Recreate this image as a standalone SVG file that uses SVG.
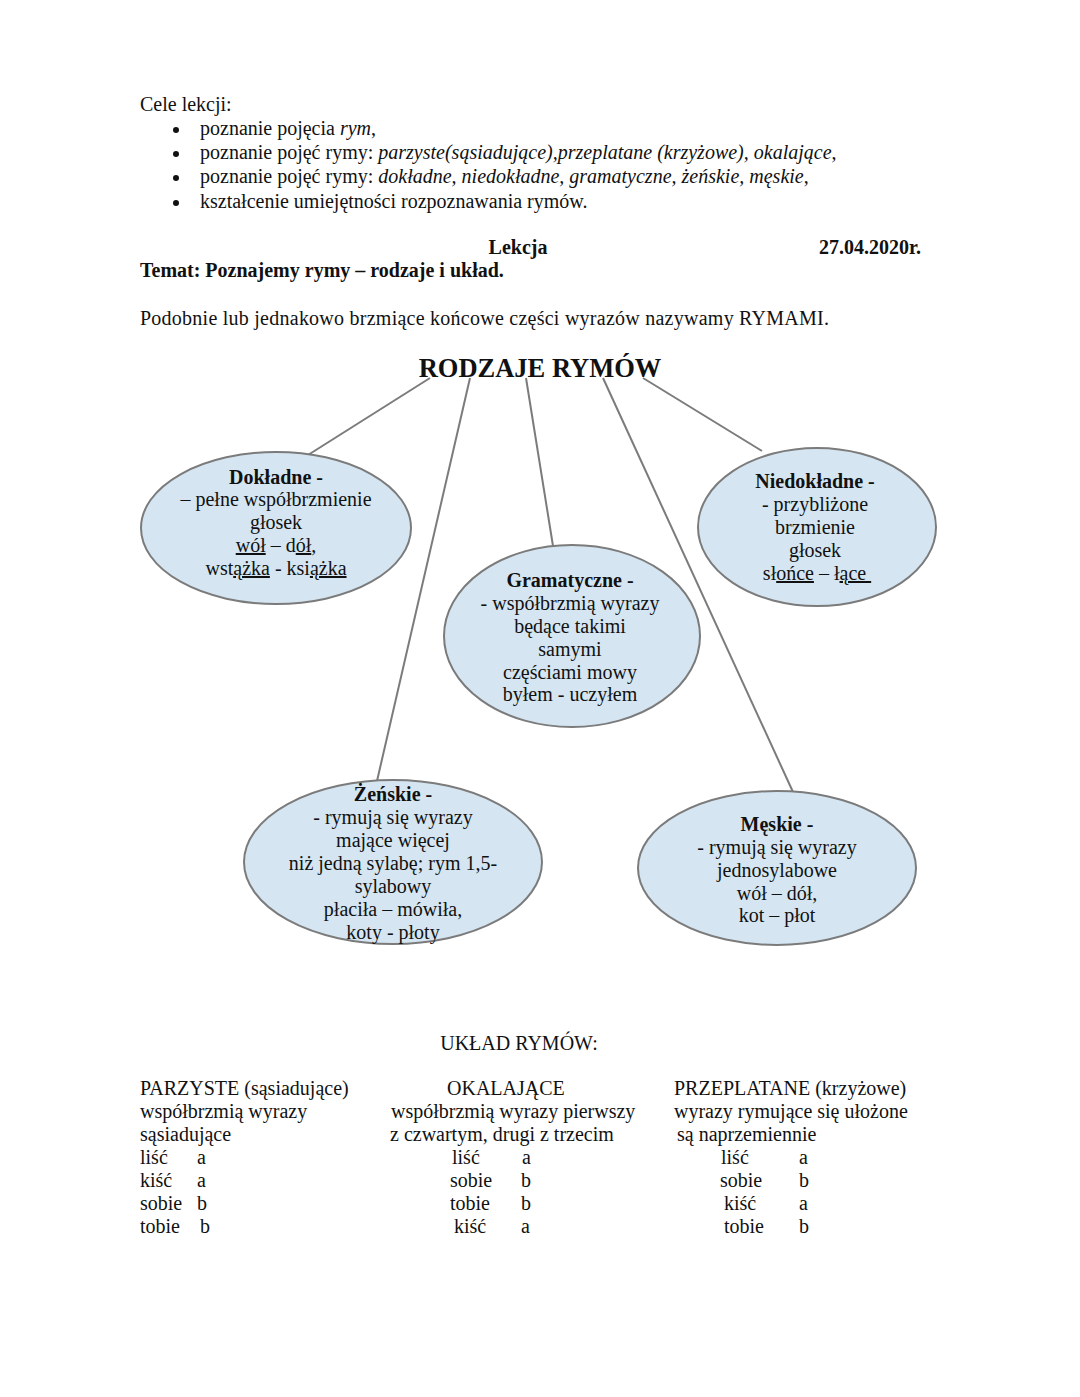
<svg xmlns="http://www.w3.org/2000/svg" width="1080" height="1397" viewBox="0 0 1080 1397">
<style>
text{font-family:"Liberation Serif","Times New Roman",serif;font-size:20px;fill:#111;}
.b{font-weight:bold;}
.i{font-style:italic;}
.c{text-anchor:middle;}
.u{text-decoration:underline;}
.node ellipse{fill:#d5e6f2;stroke:#7b7b7b;stroke-width:2;}
#connectors line{stroke:#7b7b7b;stroke-width:2;}
</style>
<rect width="1080" height="1397" fill="#fff"/>
<g id="header">
<text x="140" y="111">Cele lekcji:</text>
<circle cx="176" cy="130" r="3" fill="#111"/>
<circle cx="176" cy="154" r="3" fill="#111"/>
<circle cx="176" cy="178" r="3" fill="#111"/>
<circle cx="176" cy="203" r="3" fill="#111"/>
<text x="200" y="135">poznanie pojęcia <tspan class="i">rym</tspan>,</text>
<text x="200" y="159">poznanie pojęć rymy: <tspan class="i">parzyste(sąsiadujące),przeplatane (krzyżowe), okalające</tspan>,</text>
<text x="200" y="183">poznanie pojęć rymy: <tspan class="i">dokładne, niedokładne, gramatyczne, żeńskie, męskie</tspan>,</text>
<text x="200" y="208">kształcenie umiejętności rozpoznawania rymów.</text>
<text x="518" y="254" class="b c">Lekcja</text>
<text x="921" y="254" class="b" text-anchor="end">27.04.2020r.</text>
<text x="140" y="277" class="b">Temat: Poznajemy rymy – rodzaje i układ.</text>
<text x="140" y="325" textLength="689" lengthAdjust="spacing">Podobnie lub jednakowo brzmiące końcowe części wyrazów nazywamy RYMAMI.</text>
<text x="540" y="377" class="b c" style="font-size:26.5px">RODZAJE RYMÓW</text>
</g>
<g id="connectors">
<line x1="430" y1="378" x2="308" y2="455"/>
<line x1="470" y1="378" x2="377" y2="781"/>
<line x1="526" y1="378" x2="553" y2="546"/>
<line x1="603" y1="378" x2="793" y2="792"/>
<line x1="643" y1="378" x2="762" y2="451"/>
</g>
<g id="dokladne" class="node">
<ellipse cx="276" cy="528" rx="135" ry="76"/>
<text x="276" y="484" class="b c">Dokładne -</text>
<text x="276" y="506" class="c">– pełne współbrzmienie</text>
<text x="276" y="529" class="c">głosek</text>
<text x="276" y="552" class="c"><tspan class="u">wół</tspan> – d<tspan class="u">ół</tspan>,</text>
<text x="276" y="575" class="c">wst<tspan class="u">ążka</tspan> - ksi<tspan class="u">ążka</tspan></text>
</g>
<g id="niedokladne" class="node">
<ellipse cx="817" cy="527" rx="119" ry="79"/>
<text x="815" y="488" class="b c">Niedokładne -</text>
<text x="815" y="511" class="c">- przybliżone</text>
<text x="815" y="534" class="c">brzmienie</text>
<text x="815" y="557" class="c">głosek</text>
<text x="817" y="580" class="c">sł<tspan class="u">ońce</tspan> – ł<tspan class="u">ące&#160;</tspan></text>
</g>
<g id="gramatyczne" class="node">
<ellipse cx="572" cy="636" rx="128" ry="91"/>
<text x="570" y="587" class="b c">Gramatyczne -</text>
<text x="570" y="610" class="c">- współbrzmią wyrazy</text>
<text x="570" y="633" class="c">będące takimi</text>
<text x="570" y="656" class="c">samymi</text>
<text x="570" y="679" class="c">częściami mowy</text>
<text x="570" y="701" class="c">byłem - uczyłem</text>
</g>
<g id="zenskie" class="node">
<ellipse cx="393" cy="862" rx="149" ry="82"/>
<text x="393" y="801" class="b c">Żeńskie -</text>
<text x="393" y="824" class="c">- rymują się wyrazy</text>
<text x="393" y="847" class="c">mające więcej</text>
<text x="393" y="870" class="c">niż jedną sylabę; rym 1,5-</text>
<text x="393" y="893" class="c">sylabowy</text>
<text x="393" y="916" class="c">płaciła – mówiła,</text>
<text x="393" y="939" class="c">koty - płoty</text>
</g>
<g id="meskie" class="node">
<ellipse cx="777" cy="868" rx="139" ry="77"/>
<text x="777" y="831" class="b c">Męskie -</text>
<text x="777" y="854" class="c">- rymują się wyrazy</text>
<text x="777" y="877" class="c">jednosylabowe</text>
<text x="777" y="900" class="c">wół – dół,</text>
<text x="777" y="922" class="c">kot – płot</text>
</g>
<g id="uklad">
<text x="519" y="1050" class="c">UKŁAD RYMÓW:</text>
<text x="140" y="1095">PARZYSTE (sąsiadujące)</text>
<text x="140" y="1118">współbrzmią wyrazy</text>
<text x="140" y="1141">sąsiadujące</text>
<text x="140" y="1164">liść</text><text x="197" y="1164">a</text>
<text x="140" y="1187">kiść</text><text x="197" y="1187">a</text>
<text x="140" y="1210">sobie</text><text x="197" y="1210">b</text>
<text x="140" y="1233">tobie</text><text x="200" y="1233">b</text>
<text x="447" y="1095">OKALAJĄCE</text>
<text x="391" y="1118">współbrzmią wyrazy pierwszy</text>
<text x="390" y="1141">z czwartym, drugi z trzecim</text>
<text x="452" y="1164">liść</text><text x="522" y="1164">a</text>
<text x="450" y="1187">sobie</text><text x="521" y="1187">b</text>
<text x="450" y="1210">tobie</text><text x="521" y="1210">b</text>
<text x="454" y="1233">kiść</text><text x="521" y="1233">a</text>
<text x="674" y="1095">PRZEPLATANE (krzyżowe)</text>
<text x="674" y="1118">wyrazy rymujące się ułożone</text>
<text x="677" y="1141">są naprzemiennie</text>
<text x="721" y="1164">liść</text><text x="799" y="1164">a</text>
<text x="720" y="1187">sobie</text><text x="799" y="1187">b</text>
<text x="724" y="1210">kiść</text><text x="799" y="1210">a</text>
<text x="724" y="1233">tobie</text><text x="799" y="1233">b</text>
</g>
</svg>
